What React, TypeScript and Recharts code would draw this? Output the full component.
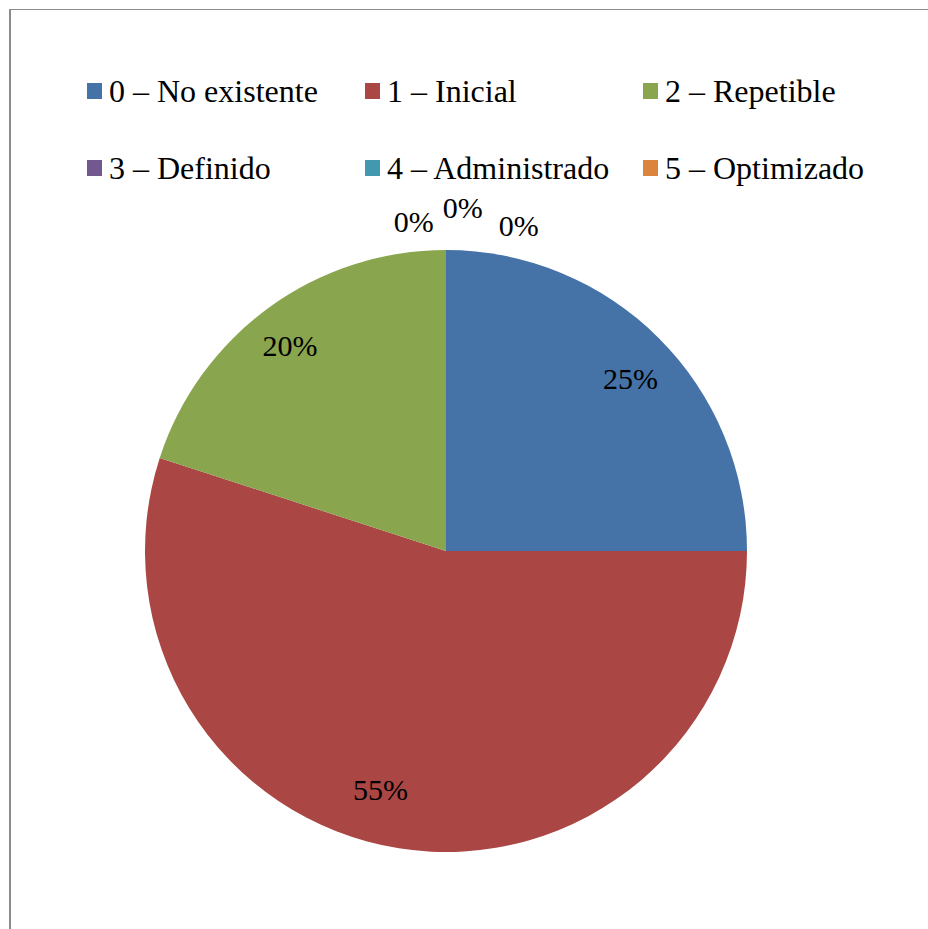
import React from "react";
import { PieChart, Pie, Cell, Legend } from "recharts";

const categories = [
  "0 – No existente",
  "1 – Inicial",
  "2 – Repetible",
  "3 – Definido",
  "4 – Administrado",
  "5 – Optimizado",
];
const values = [25, 55, 20, 0, 0, 0];
const colors = ["#4572A7", "#AA4643", "#89A54E", "#71588F", "#4198AF", "#DB843D"];

const data = categories.map((name, i) => ({ name, value: values[i] }));

const FONT = '"Liberation Serif", "Times New Roman", Tinos, serif';
const LEGEND_FS = 32;
const LABEL_FS = 30;
const RAD = Math.PI / 180;

// label placement tweaks (angle offset in degrees from slice mid-angle, radius in px)
const labelAngleOffset = [-1.9, -6.3, 1.3, 5.6, -2.8, -12.6];
const labelRadius = [252.6, 247.8, 257.6, 331, 343.4, 333.6];

const renderLabel = (props: any) => {
  const { cx, cy, midAngle, outerRadius, percent, index } = props;
  const angle = midAngle + (labelAngleOffset[index] ?? 0);
  const r = (labelRadius[index] ?? outerRadius * 0.84) * (outerRadius / 301);
  const x = cx + r * Math.cos(angle * RAD);
  const y = cy - r * Math.sin(angle * RAD);
  return (
    <text
      key={`lbl-${index}`}
      x={x}
      y={y + LABEL_FS * 0.345}
      textAnchor="middle"
      fill="#000"
      fontFamily={FONT}
      fontSize={LABEL_FS}
      style={{ fontFamily: FONT, fontSize: LABEL_FS }}
    >
      {`${Math.round((percent || 0) * 100)}%`}
    </text>
  );
};

const renderLegend = (props: any) => {
  const payload = props.payload || [];
  return (
    <div style={{ position: "relative", width: 928, height: 200 }}>
      {payload.map((entry: any, i: number) => {
        const col = i % 3;
        const row = Math.floor(i / 3);
        return (
          <div
            key={`leg-${i}`}
            style={{
              position: "absolute",
              left: 87 + col * 278,
              top: 75 + row * 77,
              height: 32,
              lineHeight: "32px",
              fontFamily: FONT,
              fontSize: LEGEND_FS,
              color: "#000",
              whiteSpace: "nowrap",
            }}
          >
            <span
              style={{
                position: "absolute",
                left: 0,
                top: 8,
                width: 15,
                height: 16,
                background: entry.color,
              }}
            />
            <span style={{ marginLeft: 22 }}>{entry.value}</span>
          </div>
        );
      })}
    </div>
  );
};

export default function App() {
  return (
    <div
      style={{
        position: "absolute",
        left: 0,
        top: 0,
        width: 928,
        height: 929,
        background: "#fff",
        overflow: "hidden",
        fontFamily: FONT,
      }}
    >
      <div
        style={{
          position: "absolute",
          left: 9,
          top: 9,
          width: 940,
          height: 940,
          borderLeft: "2px solid #8c8c8c",
          borderTop: "1px solid #8c8c8c",
          boxSizing: "border-box",
        }}
      />
      <div style={{ position: "absolute", left: 0, top: 0 }}>
        <PieChart width={928} height={929} margin={{ top: 0, right: 0, bottom: 0, left: 0 }}>
          <Legend
            content={renderLegend}
            layout="horizontal"
            verticalAlign="middle"
            wrapperStyle={{ position: "absolute", left: 0, top: 0, width: 928, height: 200 }}
          />
          <Pie
            data={data}
            dataKey="value"
            nameKey="name"
            cx={446}
            cy={551}
            outerRadius={301}
            startAngle={90}
            endAngle={-270}
            stroke="none"
            labelLine={false}
            label={renderLabel}
            isAnimationActive={false}
          >
            {data.map((d, i) => (
              <Cell key={`c-${i}`} fill={colors[i]} />
            ))}
          </Pie>
        </PieChart>
      </div>
    </div>
  );
}
